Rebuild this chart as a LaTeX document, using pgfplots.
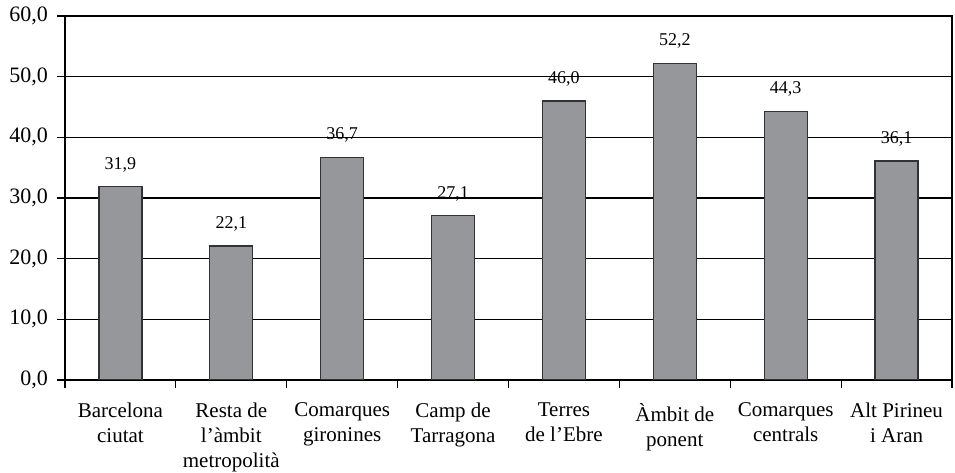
\documentclass[border=0pt]{standalone}
\usepackage{fontspec}
\setmainfont{Liberation Serif}
\usepackage{pgfplots}
\pgfplotsset{compat=1.18}
\usetikzlibrary{calc}
\definecolor{barfill}{RGB}{150,151,155}
\definecolor{barline}{RGB}{50,50,50}

\begin{document}
\begin{tikzpicture}
\begin{axis}[
    scale only axis,
    width=443.5pt, height=182pt,
    ybar, bar width=21.5pt,
    xmin=-0.5, xmax=7.5,
    ymin=0, ymax=60,
    ytick={0,10,...,60},
    xtick={0,...,7},
    xticklabels={Barcelona\\ciutat, Resta de\\l’àmbit\\metropolità, Comarques\\gironines, Camp de\\Tarragona, Terres\\de l’Ebre, Àmbit de\\ponent, Comarques\\centrals, Alt Pirineu\\i Aran},
    minor xtick={-0.5,0.5,...,7.5},
    tick align=outside,
    xtick pos=bottom, ytick pos=left,
    major x tick style={draw=none},
    major tick length=4pt,
    minor tick length=4pt,
    tick style={black, line width=0.6pt},
    axis line style={black, line width=0.6pt},
    ymajorgrids,
    grid style={black, line width=0.6pt},
    x tick label style={font=\fontsize{10.5}{12.5}\selectfont, align=center, anchor=north, yshift=-4pt},
    y tick label style={font=\fontsize{11}{12}\selectfont, xshift=-1pt},
    /pgf/number format/.cd, use comma, fixed, fixed zerofill, precision=1, assume math mode=true,
    /pgfplots/.cd,
    nodes near coords,
    every node near coord/.append style={font=\fontsize{9}{10}\selectfont, anchor=center, yshift=11pt, text=black},
]
\addplot[fill=barfill, draw=barline, line width=0.6pt] coordinates {
    (0,31.9) (1,22.1) (2,36.7) (3,27.1) (4,46.0) (5,52.2) (6,44.3) (7,36.1)
};
\coordinate (sw) at (rel axis cs:0,0);
\coordinate (ne) at (rel axis cs:1,1);
\end{axis}
\pgfresetboundingbox
\path ($(sw)+(-32.5pt,-46.5pt)$) rectangle ($(ne)+(1.5pt,8pt)$);
\end{tikzpicture}
\end{document}
